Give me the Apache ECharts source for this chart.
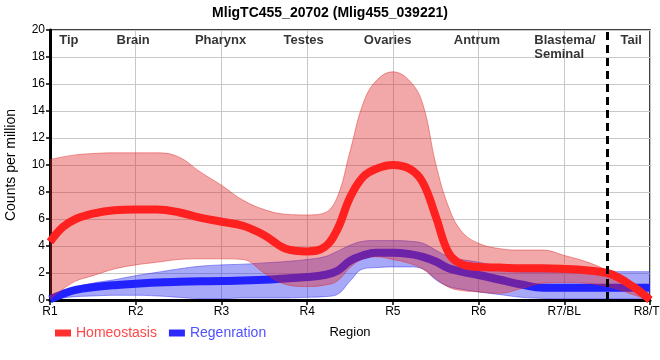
<!DOCTYPE html>
<html><head><meta charset="utf-8">
<script src="https://cdn.jsdelivr.net/npm/echarts@6/dist/echarts.min.js"></script>
<style>html,body{margin:0;padding:0;background:#fff}#c{width:660px;height:360px}</style>
</head><body><div id="c"></div>
<script>
// Region tick labels
const tickLabels = ['R1','R2','R3','R4','R5','R6','R7/BL','R8/TL'];
// Sample positions along the region axis (1 = R1 ... 8 = R8)
const xs = [1,1.15,1.3,1.5,1.75,2,2.25,2.5,2.75,3,3.25,3.5,3.75,4,4.2,4.35,4.5,4.65,4.8,5,5.2,5.35,5.5,5.65,5.8,6,6.25,6.5,6.75,7,7.25,7.5,7.65,7.8,7.9,8];
// Homeostasis: mean, upper, lower
const homMean  = [4.3,5.4,6.0,6.4,6.65,6.7,6.7,6.5,6.1,5.8,5.5,4.8,3.8,3.6,3.9,5.2,7.6,9.1,9.7,10.0,9.7,8.7,6.2,3.5,2.65,2.45,2.4,2.35,2.35,2.3,2.2,2.0,1.6,1.0,0.55,0];
const homUpper = [10.4,10.6,10.75,10.85,10.9,10.9,10.9,10.6,9.5,8.5,7.4,6.7,6.35,6.3,6.45,7.6,11.0,14.5,16.2,16.9,16.2,14.5,10.1,6.9,5.1,4.2,3.8,3.7,3.7,3.3,2.85,2.2,1.7,1.0,0.55,0.05];
const homLower = [0.05,0.8,1.4,1.8,2.3,2.6,2.8,3.0,3.05,3.05,3.0,2.0,1.15,1.0,1.1,1.4,2.4,3.05,3.2,3.0,2.7,2.3,1.6,0.95,0.7,0.6,0.5,0.85,1.25,1.3,1.25,1.0,0.75,0.4,0.2,0];
// Regeneration: mean, upper, lower
const regMean  = [0.05,0.45,0.75,0.95,1.1,1.2,1.3,1.35,1.38,1.4,1.45,1.5,1.6,1.7,1.85,2.15,2.9,3.3,3.5,3.5,3.4,3.2,2.85,2.35,2.1,1.85,1.5,1.15,0.9,0.9,0.9,0.9,0.9,0.9,0.9,0.9];
const regUpper = [0.1,0.6,0.95,1.25,1.5,1.8,2.05,2.3,2.5,2.6,2.65,2.75,2.85,3.0,3.2,3.6,4.05,4.35,4.4,4.4,4.35,4.2,3.7,3.2,3.0,2.8,2.45,2.05,2.05,2.05,2.05,2.1,2.1,2.1,2.1,2.1];
const regLower = [0,0.15,0.25,0.3,0.35,0.35,0.3,0.2,0.1,0.1,0.15,0.15,0.15,0.2,0.25,0.4,1.4,2.3,2.4,2.45,2.45,2.3,1.5,1.0,0.8,0.6,0.4,0.2,0.12,0.1,0.1,0.1,0.1,0.1,0.1,0.1];
// Body-region annotations
const regionNames = ['Tip','Brain','Pharynx','Testes','Ovaries','Antrum','Blastema/\nSeminal','Tail'];
const regionAt    = [1.22,1.97,2.99,3.96,4.94,5.98,6.65,7.78];
const tailBoundary = 7.5;

const pair = (a) => xs.map((x,i)=>[x,a[i]]);
// value first so that stacking applies to the value dimension
const bandLow = (l) => xs.map((x,i)=>[l[i],x]);
const bandDiff = (u,l) => xs.map((x,i)=>[u[i]-l[i],x]);

const chart = echarts.init(document.getElementById('c'), null, {renderer:'canvas'});
const FONT = 'Liberation Sans, Arial, sans-serif';
const bandCommon = {type:'line',symbol:'none',smooth:0.4,silent:true,encode:{x:1,y:0}};
chart.setOption({
  animation:false,
  title:{text:'MligTC455_20702 (Mlig455_039221)',left:'center',top:1,
    textStyle:{fontFamily:'Liberation Sans Narrow, Arial Narrow, Liberation Sans, sans-serif',fontWeight:'bold',fontSize:14,color:'#000'}},
  grid:{left:50,right:10,top:30,bottom:60,show:true,borderColor:'#000',borderWidth:1.5,outerBoundsMode:'none',containLabel:false},
  legend:{left:50,top:321,icon:'rect',itemWidth:16,itemHeight:7,itemGap:12,
    data:[{name:'Homeostasis',textStyle:{color:'#ff4848'}},{name:'Regenration',textStyle:{color:'#5050ff'}}],
    textStyle:{fontFamily:FONT,fontSize:14}},
  xAxis:{type:'value',min:1,max:8,interval:1,name:'Region',nameLocation:'middle',nameGap:26,
    nameTextStyle:{fontFamily:FONT,fontSize:13,color:'#000'},
    axisLine:{show:true,onZero:false,lineStyle:{color:'#000',width:3}},
    axisTick:{show:true,length:5,lineStyle:{color:'#000',width:1.5}},
    axisLabel:{fontFamily:FONT,fontSize:12,color:'#000',margin:6,showMinLabel:true,showMaxLabel:true,hideOverlap:false,
      formatter:(v)=>tickLabels[Math.round(v)-1]||''},
    splitLine:{show:true,lineStyle:{color:'#c8c8c8',width:1}}},
  yAxis:{type:'value',min:0,max:20,interval:2,name:'Counts per million',nameLocation:'middle',nameGap:32,
    nameTextStyle:{fontFamily:FONT,fontSize:14,color:'#000'},
    axisLine:{show:true,lineStyle:{color:'#000',width:3}},
    axisTick:{show:true,length:4,lineStyle:{color:'#000',width:1.5}},
    axisLabel:{fontFamily:FONT,fontSize:12,color:'#000',margin:5},
    splitLine:{show:true,lineStyle:{color:'#c8c8c8',width:1}}},
  series:[
    Object.assign({},bandCommon,{name:'regLow',stack:'r',data:bandLow(regLower),
      lineStyle:{width:1,color:'rgba(38,38,237,0.45)'},z:1}),
    Object.assign({},bandCommon,{name:'regBand',stack:'r',data:bandDiff(regUpper,regLower),
      lineStyle:{width:1,color:'rgba(38,38,237,0.45)'},areaStyle:{color:'rgba(38,38,237,0.4)',opacity:1},z:1}),
    {type:'line',name:'Regenration',data:pair(regMean),symbol:'none',smooth:0.4,color:'#2b2bff',
      lineStyle:{width:8,color:'#2222ff'},z:2},
    Object.assign({},bandCommon,{name:'homLow',stack:'h',data:bandLow(homLower),
      lineStyle:{width:1,color:'rgba(222,38,38,0.45)'},z:3}),
    Object.assign({},bandCommon,{name:'homBand',stack:'h',data:bandDiff(homUpper,homLower),
      lineStyle:{width:1,color:'rgba(222,38,38,0.45)'},areaStyle:{color:'rgba(222,38,38,0.4)',opacity:1},z:3}),
    {type:'line',name:'Homeostasis',data:pair(homMean),symbol:'none',smooth:0.4,color:'#ff3030',
      lineStyle:{width:8,color:'#ff2020'},z:4},
    {type:'scatter',name:'regions',symbolSize:0,silent:true,z:6,
      data:regionNames.map((n,i)=>({value:[regionAt[i],20],name:n,
        label: i===6 ? {align:'left'} : undefined})),
      label:{show:true,position:'bottom',distance:3,formatter:(p)=>p.name,
        fontFamily:FONT,fontWeight:'bold',fontSize:13,color:'#000',align:'center',lineHeight:14},
      markLine:{silent:true,symbol:'none',label:{show:false},
        lineStyle:{color:'#000',width:3,type:[8,5]},data:[{xAxis:tailBoundary}]}}
  ]
});
</script></body></html>
